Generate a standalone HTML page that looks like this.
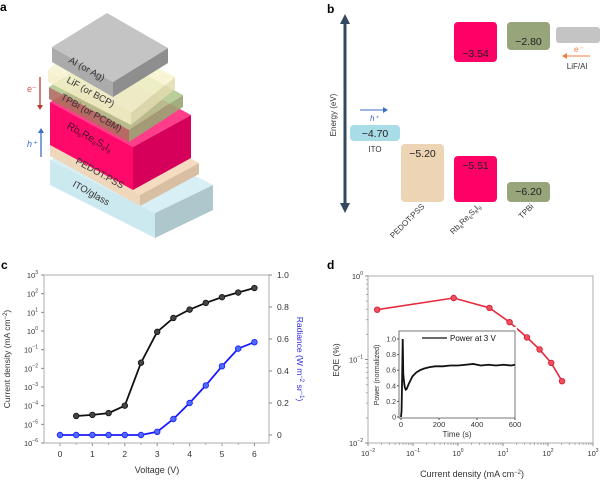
<!DOCTYPE html>
<html><head><meta charset="utf-8">
<style>
html,body{margin:0;padding:0;background:#fff;}
svg{display:block;font-family:"Liberation Sans",sans-serif;}
</style></head>
<body>
<svg id="fig" width="600" height="480" viewBox="0 0 600 480" xmlns="http://www.w3.org/2000/svg">
<g font-weight="bold" font-size="12">
<text x="0" y="11">a</text>
<text x="327" y="13">b</text>
<text x="1" y="269">c</text>
<text x="327" y="269">d</text>
</g>
<g id="pa"></g>
<g id="pb"></g>
<g id="pc"></g>
<g id="pd"></g>
</svg>
<script>
// ---- data ----
const voltages = [0.5,1,1.5,2,2.5,3,3.5,4,4.5,5,5.5,6];
const currentDensity = [2.8e-5,3.2e-5,4e-5,1e-4,0.02,0.9,5,14,32,65,115,200];
const radVoltages = [0,0.5,1,1.5,2,2.5,3,3.5,4,4.5,5,5.5,6];
const radiance = [0,0,0,0,0,0,0.02,0.1,0.2,0.31,0.43,0.54,0.58];
const eqeCurrent = [0.016,0.8,5,14,34,65,118,205];
const eqeValues = [0.395,0.545,0.415,0.28,0.184,0.132,0.091,0.055];
const insetTimes = [0,3,6,9,12,16,20,25,30,40,50,60,80,100,120,150,180,220,260,300,340,380,420,460,500,540,580,600];
const insetPower = [0,0.08,0.5,1.0,0.55,0.45,0.38,0.35,0.36,0.42,0.47,0.52,0.57,0.6,0.62,0.64,0.65,0.65,0.66,0.66,0.67,0.68,0.66,0.67,0.66,0.67,0.66,0.67];
const cTicksX = ["0","1","2","3","4","5","6"];
const cTicksLeftExp = ["-6","-5","-4","-3","-2","-1","0","1","2","3"];
const cTicksRight = ["0","0.2","0.4","0.6","0.8","1.0"];
const dTicksXExp = ["-2","-1","0","1","2","3"];
const dTicksYExp = ["-2","-1","0"];
const insetTicksX = ["0","200","400","600"];
const insetTicksY = ["0","0.2","0.4","0.6","0.8","1.0"];
const bLevels = [
 {name:"ito",val:"\u22124.70",x:350,y:125,w:50,h:16,c:"#a8dce6"},
 {name:"pedot",val:"\u22125.20",x:401,y:144,w:43,h:58,c:"#ecd4b4"},
 {name:"perovskite-lumo",val:"\u22123.54",x:454,y:22,w:43,h:40,c:"#ff0066"},
 {name:"perovskite-homo",val:"\u22125.51",x:454,y:156,w:43,h:46,c:"#ff0066"},
 {name:"tpbi-lumo",val:"\u22122.80",x:507,y:22,w:43,h:28,c:"#97a57a"},
 {name:"tpbi-homo",val:"\u22126.20",x:507,y:182,w:43,h:20,c:"#97a57a"}
];
const NS="http://www.w3.org/2000/svg";
function mk(tag,attrs,parent,txt){const e=document.createElementNS(NS,tag);for(const k in attrs)e.setAttribute(k,attrs[k]);if(txt!==undefined)e.textContent=txt;parent.appendChild(e);return e;}

// ---- panel a ----
const pa=document.getElementById('pa');
const layers=[
 {n:"ito-glass-layer",L:[50,160],u:[58,-28],v:[105,53],h:25,top:"#d8eff5",fr:"#cde9f0",rt:"#aec7cd",op:1},
 {n:"pedot-layer",L:[50,145],u:[59,-32],v:[90,50],h:11,top:"#f3dcc0",fr:"#efd7bb",rt:"#d9bfa2",op:1},
 {n:"perovskite-layer",L:[50,102],u:[58,-32],v:[83,45],h:43,top:"#ff3d8a",fr:"#ff0a6a",rt:"#d6005a",op:1},
 {n:"tpbi-layer",L:[49,87],u:[54,-35],v:[80,43],h:12,top:"#b3c98e",fr:"#b06e60",rt:"#9aa673",op:0.9},
 {n:"lif-layer",L:[48,70],u:[44,-36],v:[83,43],h:12,top:"#f7f3cf",fr:"#f5efc8",rt:"#e3dcb0",op:0.85},
 {n:"al-layer",L:[52,47],u:[55,-34],v:[61,35],h:15,top:"#c4c4c4",fr:"#ababab",rt:"#8e8e8e",op:1}
];
layers.forEach(l=>{
 const g=mk('g',{opacity:l.op},pa);
 
 
 const [x,y]=l.L,[ux,uy]=l.u,[vx,vy]=l.v,h=l.h;
 const P=(a)=>a.map(p=>p.join(',')).join(' ');
 mk('polygon',{points:P([[x,y],[x+vx,y+vy],[x+vx,y+vy+h],[x,y+h]]),fill:l.fr},g);
 mk('polygon',{points:P([[x+vx,y+vy],[x+vx+ux,y+vy+uy],[x+vx+ux,y+vy+uy+h],[x+vx,y+vy+h]]),fill:l.rt},g);
 mk('polygon',{points:P([[x,y],[x+ux,y+uy],[x+vx+ux,y+vy+uy],[x+vx,y+vy]]),fill:l.top},g);
});
const aLabels=[["Al (or Ag)",68,62],["LiF (or BCP)",66,82],["TPBi (or PCBM)",60,99],["PEDOT:PSS",75,163],["ITO/glass",72,186]];
aLabels.forEach(t=>{const e=mk('text',{x:t[1],y:t[2],'font-size':9.5,fill:'#333',transform:`rotate(29 ${t[1]} ${t[2]})`},pa,t[0]);
 });
const rb=mk('text',{x:66,y:128,'font-size':10.5,fill:'#4a1028',transform:'rotate(29 66 128)'},pa);

rb.innerHTML='Rb<tspan font-size="6" dy="2">6</tspan><tspan dy="-2">Re</tspan><tspan font-size="6" dy="2">6</tspan><tspan dy="-2">S</tspan><tspan font-size="6" dy="2">8</tspan><tspan dy="-2">I</tspan><tspan font-size="6" dy="2">8</tspan>';
mk('line',{x1:40,y1:77,x2:40,y2:106,stroke:'#c0392b','stroke-width':1.3},pa);
mk('polygon',{points:'37,105 43,105 40,110',fill:'#c0392b'},pa);
mk('text',{x:27,y:92,'font-size':9,fill:'#d9534f'},pa,'e⁻');
mk('line',{x1:41,y1:157,x2:41,y2:132,stroke:'#3b6fc0','stroke-width':1.3},pa);
mk('polygon',{points:'38,133 44,133 41,128',fill:'#3b6fc0'},pa);
mk('text',{x:27,y:147,'font-size':9,fill:'#3b6fc0','font-style':'italic'},pa,'h⁺');

// ---- panel b ----
const pb=document.getElementById('pb');
mk('line',{x1:345,y1:20,x2:345,y2:207,stroke:'#34495e','stroke-width':3},pb);
mk('polygon',{points:'340,24 350,24 345,14',fill:'#34495e'},pb);
mk('polygon',{points:'340,203 350,203 345,213',fill:'#34495e'},pb);
mk('text',{x:336,y:115,'font-size':8,fill:'#333','text-anchor':'middle',transform:'rotate(-90 336 115)'},pb,'Energy (eV)');
bLevels.forEach(b=>{
 const r=mk('rect',{x:b.x,y:b.y,width:b.w,height:b.h,rx:4,fill:b.c},pb);
 
 const ty=(b.name.indexOf('lumo')>=0)?b.y+b.h-5:(b.name==='ito'?b.y+12:b.y+13);
 const t=mk('text',{x:b.x+b.w/2,y:ty,'font-size':10.5,fill:'#222','text-anchor':'middle'},pb,b.val);
 
});
mk('rect',{x:556,y:27,width:44,height:16,rx:3,fill:'#c4c4c4'},pb);
mk('text',{x:375,y:152,'font-size':8,fill:'#333','text-anchor':'middle'},pb,'ITO');
mk('line',{x1:360,y1:110,x2:384,y2:110,stroke:'#3b6fc0','stroke-width':1},pb);
mk('polygon',{points:'383,107 383,113 388,110',fill:'#3b6fc0'},pb);
mk('text',{x:370,y:121,'font-size':8,fill:'#3b6fc0','font-style':'italic'},pb,'h⁺');
mk('line',{x1:590,y1:56,x2:566,y2:56,stroke:'#f07f3c','stroke-width':1},pb);
mk('polygon',{points:'567,53 567,59 562,56',fill:'#f07f3c'},pb);
mk('text',{x:574,y:52,'font-size':8,fill:'#f07f3c','font-style':'italic'},pb,'e⁻');
mk('text',{x:577,y:69,'font-size':8,fill:'#333','text-anchor':'middle'},pb,'LiF/Al');
const bx=[["PEDOT:PSS",425,207],["TPBi",534,207]];
bx.forEach(t=>{const e=mk('text',{x:t[1],y:t[2],'font-size':8,fill:'#333','text-anchor':'end',transform:`rotate(-45 ${t[1]} ${t[2]})`},pb,t[0]);});
const rb2=mk('text',{x:481,y:207,'font-size':8,fill:'#333','text-anchor':'end',transform:'rotate(-45 481 207)'},pb);

rb2.innerHTML='Rb<tspan font-size="5" dy="2">6</tspan><tspan dy="-2">Re</tspan><tspan font-size="5" dy="2">6</tspan><tspan dy="-2">S</tspan><tspan font-size="5" dy="2">8</tspan><tspan dy="-2">I</tspan><tspan font-size="5" dy="2">8</tspan>';

// ---- panel c ----
const pc=document.getElementById('pc');
const cL=44,cR=269,cT=275,cB=443;
const cx=v=>60+v*32.4, cyL=j=>cB-(Math.log10(j)+6)*(cB-cT)/9, cyR=r=>435-r*160;
mk('rect',{x:cL,y:cT,width:cR-cL,height:cB-cT,fill:'none',stroke:'#999','stroke-width':0.8},pc);
cTicksX.forEach((t,i)=>{const x=cx(i);mk('line',{x1:x,y1:cB,x2:x,y2:cB+3,stroke:'#888'},pc);
 const e=mk('text',{x:x,y:cB+14,'font-size':8.5,fill:'#333','text-anchor':'middle'},pc,t);});
for(let i=0;i<12;i++){const x=cx(i*0.5+0.25)-8.1;if(x>cL)mk('line',{x1:x,y1:cB,x2:x,y2:cB+2,stroke:'#aaa'},pc);}
cTicksLeftExp.forEach(t=>{const y=cyL(Math.pow(10,+t));mk('line',{x1:cL-3,y1:y,x2:cL,y2:y,stroke:'#888'},pc);
 const e=mk('text',{x:cL-6,y:y+3,'font-size':7.5,fill:'#333','text-anchor':'end'},pc);e.innerHTML='10<tspan font-size="5" dy="-4">'+t.replace('-','\u2212')+'</tspan>';
 });
cTicksRight.forEach(t=>{const y=cyR(+t);mk('line',{x1:cR,y1:y,x2:cR+3,y2:y,stroke:'#888'},pc);
 const e=mk('text',{x:cR+8,y:y+3,'font-size':8.5,fill:'#333'},pc,t);});
const yl=mk('text',{x:10,y:359,'font-size':8.5,fill:'#333','text-anchor':'middle',transform:'rotate(-90 10 359)'},pc);
yl.innerHTML='Current density (mA cm<tspan font-size="6" dy="-3">\u22122</tspan><tspan dy="3">)</tspan>';

const yr=mk('text',{x:297,y:359,'font-size':8.5,fill:'#2a2ae0','text-anchor':'middle',transform:'rotate(90 297 359)'},pc);
yr.innerHTML='Radiance (W m<tspan font-size="6" dy="-3">\u22122</tspan><tspan dy="3"> sr</tspan><tspan font-size="6" dy="-3">\u22121</tspan><tspan dy="3">)</tspan>';

mk('text',{x:157,y:473,'font-size':9,fill:'#333','text-anchor':'middle'},pc,'Voltage (V)');
mk('polyline',{points:radVoltages.map((v,i)=>cx(v)+','+cyR(radiance[i])).join(' '),fill:'none',stroke:'#1a1aff','stroke-width':1.8},pc);
radVoltages.forEach((v,i)=>{const c=mk('circle',{cx:cx(v),cy:cyR(radiance[i]),r:2.8,fill:'#4c6cff',stroke:'#1a1aff','stroke-width':0.8},pc);});
mk('polyline',{points:voltages.map((v,i)=>cx(v)+','+cyL(currentDensity[i])).join(' '),fill:'none',stroke:'#111','stroke-width':1.8},pc);
voltages.forEach((v,i)=>{const c=mk('circle',{cx:cx(v),cy:cyL(currentDensity[i]),r:2.8,fill:'#444',stroke:'#111','stroke-width':0.8},pc);});

// ---- panel d ----
const pd=document.getElementById('pd');
const dL=368,dR=593,dT=276,dB=443;
const dx=j=>dL+(Math.log10(j)+2)*45, dy=e=>dB-(Math.log10(e)+2)*(dB-dT)/2;
mk('rect',{x:dL,y:dT,width:dR-dL,height:dB-dT,fill:'none',stroke:'#999','stroke-width':0.8},pd);
dTicksXExp.forEach(t=>{const x=dx(Math.pow(10,+t));mk('line',{x1:x,y1:dB,x2:x,y2:dB+3,stroke:'#888'},pd);
 const e=mk('text',{x:x,y:dB+13,'font-size':7.5,fill:'#333','text-anchor':'middle'},pd);e.innerHTML='10<tspan font-size="5" dy="-4">'+t.replace('-','\u2212')+'</tspan>';
 
 if(+t<3)for(let m=2;m<10;m++){const xm=dx(m*Math.pow(10,+t));mk('line',{x1:xm,y1:dB,x2:xm,y2:dB+2,stroke:'#aaa'},pd);}});
dTicksYExp.forEach(t=>{const y=dy(Math.pow(10,+t));mk('line',{x1:dL-3,y1:y,x2:dL,y2:y,stroke:'#888'},pd);
 const e=mk('text',{x:dL-5,y:y+3,'font-size':7.5,fill:'#333','text-anchor':'end'},pd);e.innerHTML='10<tspan font-size="5" dy="-4">'+t.replace('-','\u2212')+'</tspan>';
 
 if(+t<0)for(let m=2;m<10;m++){const ym=dy(m*Math.pow(10,+t));mk('line',{x1:dL-2,y1:ym,x2:dL,y2:ym,stroke:'#aaa'},pd);}});
mk('text',{x:339,y:360,'font-size':8.5,fill:'#333','text-anchor':'middle',transform:'rotate(-90 339 360)'},pd,'EQE (%)');
const dxl=mk('text',{x:472,y:477,'font-size':9,fill:'#333','text-anchor':'middle'},pd);
dxl.innerHTML='Current density (mA cm<tspan font-size="6" dy="-3">\u22122</tspan><tspan dy="3">)</tspan>';

mk('polyline',{points:eqeCurrent.map((j,i)=>dx(j)+','+dy(eqeValues[i])).join(' '),fill:'none',stroke:'#e8283c','stroke-width':1.6},pd);
eqeCurrent.forEach((j,i)=>{const c=mk('circle',{cx:dx(j),cy:dy(eqeValues[i]),r:2.8,fill:'#f0505e',stroke:'#d01830','stroke-width':0.8},pd);});
// inset
const iL=399,iR=515,iT=331,iB=418;
const ix=t=>401+t*(114/600), iy=p=>417-p*78;
const ig=mk('g',{},pd);
mk('rect',{x:375,y:327,width:142,height:111,fill:'#fff'},ig);
mk('rect',{x:iL,y:iT,width:iR-iL,height:iB-iT,fill:'#fff',stroke:'#555','stroke-width':0.8},ig);
insetTicksX.forEach(t=>{const x=ix(+t);mk('line',{x1:x,y1:iB,x2:x,y2:iB+2,stroke:'#555'},ig);
 mk('text',{x:x,y:iB+9,'font-size':7.5,fill:'#333','text-anchor':'middle'},ig,t);});
insetTicksY.forEach(t=>{const y=iy(+t);mk('line',{x1:iL-2,y1:y,x2:iL,y2:y,stroke:'#555'},ig);
 mk('text',{x:iL-3,y:y+2.5,'font-size':7,fill:'#333','text-anchor':'end'},ig,t);});
mk('text',{x:457,y:437,'font-size':8,fill:'#333','text-anchor':'middle'},ig,'Time (s)');
mk('text',{x:379,y:375,'font-size':7,fill:'#333','text-anchor':'middle',transform:'rotate(-90 379 375)'},ig,'Power (normalized)');
mk('polyline',{points:insetTimes.map((t,i)=>ix(t)+','+iy(insetPower[i])).join(' '),fill:'none',stroke:'#111','stroke-width':1.8},ig);
mk('line',{x1:422,y1:338,x2:447,y2:338,stroke:'#111','stroke-width':1.2},ig);
mk('text',{x:450,y:341,'font-size':8,fill:'#111'},ig,'Power at 3 V');
</script>
</body></html>
